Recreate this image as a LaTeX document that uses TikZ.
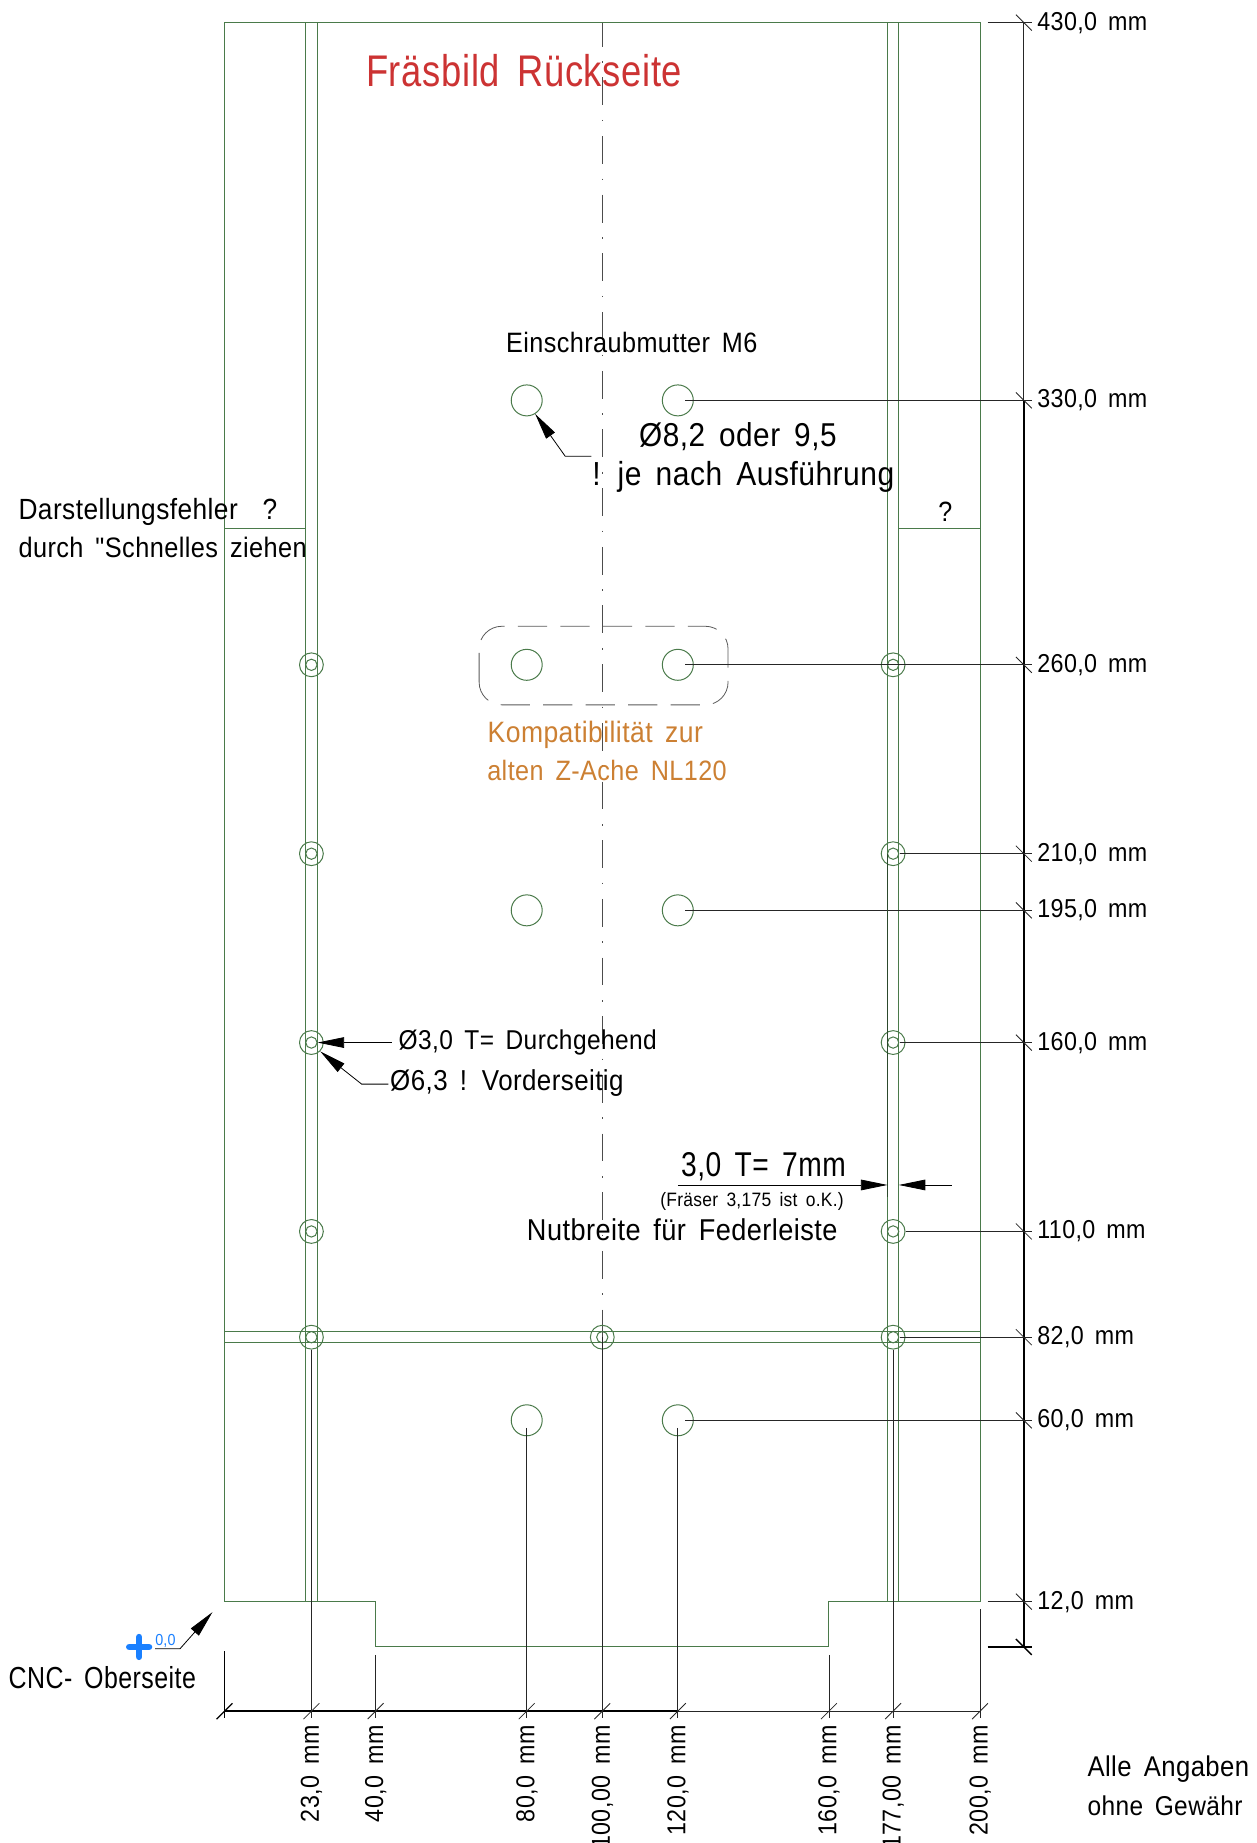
\documentclass[tikz,border=0pt]{standalone}
\usepackage{fontspec}
\setmainfont[FakeStretch=0.9,WordSpace=1.6,LetterSpace=1.5,Ligatures=TeXOff]{Liberation Sans}
\newfontfamily\tightfont[FakeStretch=0.82,WordSpace=1.6,LetterSpace=1.5]{Liberation Sans}
\usetikzlibrary{arrows.meta}
\definecolor{partgreen}{HTML}{4A7A4A}
\definecolor{titlered}{HTML}{CC3333}
\definecolor{noteorange}{HTML}{CC8033}
\definecolor{zeroblue}{HTML}{1A80FF}
\newcommand{\txtsize}[1]{\fontsize{#1}{#1}\selectfont}
\tikzset{
  part/.style={draw=partgreen,line width=0.75pt},
  bighole/.style={part,circle,inner sep=0,minimum size=8.2mm},
  smallhole/.style={part,circle,inner sep=0,minimum size=6.3mm},
  innerhole/.style={part,circle,inner sep=0,minimum size=3mm},
  dimline/.style={line width=0.6pt,black!85},
  thickdim/.style={line width=1.4pt,black},
  leader/.style={line width=0.6pt,black,-{Triangle[length=20pt,width=8pt]}},
  lbl/.style={inner sep=0,anchor=base west,font=\txtsize{23}},
  dimtxt/.style={lbl,font=\txtsize{19.5}},
  botlbl/.style={dimtxt,anchor=base east,rotate=90},
}
\begin{document}
\begin{tikzpicture}[x=1mm,y=1mm]
\useasboundingbox (-59.44,-51.9) rectangle (273.1,436);

% centre line of the plate
\draw[line width=0.6pt,black!70,dash pattern=on 21pt off 11pt on 1.2pt off 11pt,dash phase=3pt] (100,430) -- (100,-17);

% outline and slots
\draw[part] (0,12) -- (0,430) -- (200,430) -- (200,12) -- (160,12) -- (160,0) -- (40,0) -- (40,12) -- cycle;
\foreach \x in {21.5,24.5,175.5,178.5} \draw[part] (\x,12) -- (\x,430);
\foreach \y in {80.5,83.5} \draw[part] (0,\y) -- (200,\y);
\draw[part,line width=0.6pt] (0,296) -- (21.5,296);
\draw[part,line width=0.6pt] (178.5,296) -- (200,296);

% holes
\foreach \x/\y in {80/330,120/330,80/260,120/260,80/195,120/195,80/60,120/60}
  \node[bighole] (b\x\y) at (\x,\y) {};
\foreach \x/\y in {23/260,23/210,23/160,23/110,23/82,100/82,177/260,177/210,177/160,177/110,177/82} {
  \node[smallhole] (s\x\y) at (\x,\y) {};
  \node[innerhole] (i\x\y) at (\x,\y) {};
}
\draw[line width=0.6pt,black!65,dash pattern=on 22pt off 10pt,rounded corners=6mm] (67.4,249.4) rectangle (133.3,270.2);

% right hand ruler
\foreach \y in {430,330,260,210,195,160,110,82,60,12,0} \coordinate (r\y) at (211.6,\y);
\draw[dimline] (r430) -- (r330);
\draw[thickdim] (r330) -- (r0);
\foreach \y in {330,260,195,60} \draw[dimline] ([xshift=2mm]b120\y.center) -- ([xshift=2.1mm]r\y);
\foreach \y in {260,210,160,82} \draw[dimline] ([xshift=1.9mm]s177\y.center) -- ([xshift=2.1mm]r\y);
\draw[dimline] (s177110.east) -- ([xshift=2.1mm]r110);
\foreach \y in {430,12} \draw[dimline] ([xshift=-9.6mm]r\y) -- ([xshift=2.1mm]r\y);
\draw[thickdim,line width=1pt] ([xshift=-9.6mm]r0) -- ([xshift=2.1mm]r0);
\foreach \y in {430,330,260,210,195,160,110,82,60,12}
  \draw[dimline] ([shift={(-2.1,2.1)}]r\y) -- ([shift={(2.1,-2.1)}]r\y);
\draw[thickdim,line width=1pt] ([shift={(-2.1,2.1)}]r0) -- ([shift={(2.1,-2.1)}]r0);

% bottom ruler
\foreach \x in {0,23,40,80,100,120,160,177,200} \coordinate (d\x) at (\x,-17);
\draw[thickdim] (d0) -- (d120);
\draw[dimline,line width=0.9pt] (d120) -- (d177);
\draw[dimline] (d177) -- (d200);
\draw[dimline] (s2382.south) -- ([yshift=-1.9mm]d23);
\draw[dimline] (s17782.south) -- ([yshift=-1.9mm]d177);
\draw[dimline] (i10082.center) -- ([yshift=-1.9mm]d100);
\foreach \x in {80,120} \draw[dimline] ([yshift=-2mm]b\x60.center) -- ([yshift=-1.9mm]d\x);
\foreach \x/\t in {40/-2.1,160/-2.1,200/10} \draw[dimline] (\x,\t) -- ([yshift=-1.9mm]d\x);
\draw[thickdim,line width=1pt] (0,-1.2) -- ([yshift=-1.9mm]d0);
\foreach \x in {23,40,80,100,120,160,177,200}
  \draw[dimline] ([shift={(-2.1,-2.1)}]d\x) -- ([shift={(2.1,2.1)}]d\x);
\draw[thickdim,line width=1pt] ([shift={(-2.1,-2.1)}]d0) -- ([shift={(2.1,2.1)}]d0);

% groove width
\coordinate (gl) at (175.5,122.3);
\coordinate (gr) at (178.5,122.3);
\draw[line width=0.6pt,partgreen!60!black] (175.5,210) -- (175.5,119);
\draw[leader] (120,122.3) -- (gl);
\draw[leader] (192.5,122.3) -- (gr);

% leaders
\coordinate (c33) at (44.3,160);
\coordinate (c63a) at (43.4,149);
\coordinate (c63b) at (36.3,149);
\coordinate (c82a) at (97.1,315.2);
\coordinate (c82b) at (90.2,315.2);
\coordinate (c00a) at (-18.4,-0.5);
\coordinate (c00b) at (-11.8,-0.5);
\coordinate (c00c) at (-3.2,9.2);
\draw[leader] (c33) -- (i23160.east);
\draw[leader] (c63a) -- (c63b) -- (s23160.-45);
\draw[leader] (c82a) -- (c82b) -- (b80330.-58);
\draw[leader] (c00a) -- (c00b) -- (c00c);
\node (cross) at (-22.6,0) {};
\draw[zeroblue,line width=5pt,line cap=round] ([xshift=-2.6mm]cross.center) -- ([xshift=2.6mm]cross.center);
\draw[zeroblue,line width=5pt,line cap=round] ([yshift=-2.6mm]cross.center) -- ([yshift=2.6mm]cross.center);

% labels of the rulers
\foreach \y in {430,330,260,210,195,160,110,82,60,12}
  \node[dimtxt] (l\y) at (215.1,\y-2) {\y,0 mm};
\foreach \x/\dec in {23/0,40/0,80/0,100/00,120/0,160/0,177/00,200/0}
  \node[botlbl] (m\x) at (\x+2,-20.7) {\x,\dec{} mm};

% texts
\node[lbl,font=\tightfont\txtsize{33.4},text=titlered] (title) at (37.4,413.1) {Fräsbild Rückseite};
\node[lbl,font=\txtsize{21.1}] (nut) at (74.5,342.6) {Einschraubmutter M6};
\node[lbl,font=\txtsize{24.9}] (d82) at (109.7,317.8) {Ø8,2 oder 9,5};
\node[lbl,font=\txtsize{25.1}] (exec) at (97.3,307.5) {! je nach Ausführung};
\node[lbl,anchor=base,font=\txtsize{21}] (qr) at (190.8,297.9) {?};
\node[lbl,font=\txtsize{22}] (err1) at (-54.6,298.4) {Darstellungsfehler ~?};
\node[lbl,font=\txtsize{21.2}] (err2) at (-54.6,288.5) {durch "Schnelles ziehen};
\node[lbl,font=\txtsize{22.2},text=noteorange] (comp1) at (69.6,239.4) {Kompatibilität zur};
\node[lbl,font=\txtsize{21.1},text=noteorange] (comp2) at (69.5,229.5) {alten Z-Ache NL120};
\node[lbl,font=\txtsize{20.5}] (th33) at (46,158.2) {Ø3,0 T= Durchgehend};
\node[lbl,font=\txtsize{21.7}] (th63) at (43.8,147.3) {Ø6,3 ! Vorderseitig};
\node[lbl,font=\tightfont\txtsize{25.9}] (gv1) at (120.8,124.5) {3,0 T= 7mm};
\node[lbl,font=\txtsize{14.6}] (gv2) at (115.3,116.6) {(Fräser 3,175 ist o.K.)};
\node[lbl,font=\txtsize{22.7}] (gv3) at (80,107.6) {Nutbreite für Federleiste};
\node[lbl,font=\tightfont\txtsize{22.9}] (cnc) at (-57.2,-10.9) {CNC- Oberseite};
\node[lbl,font=\txtsize{21.5}] (note1) at (228.4,-34.2) {Alle Angaben};
\node[lbl,font=\txtsize{20.5}] (note2) at (228.4,-44.5) {ohne Gewähr};
\node[lbl,font=\txtsize{12},text=zeroblue] (zero) at (-18.4,0.5) {0,0};
\end{tikzpicture}
\end{document}
